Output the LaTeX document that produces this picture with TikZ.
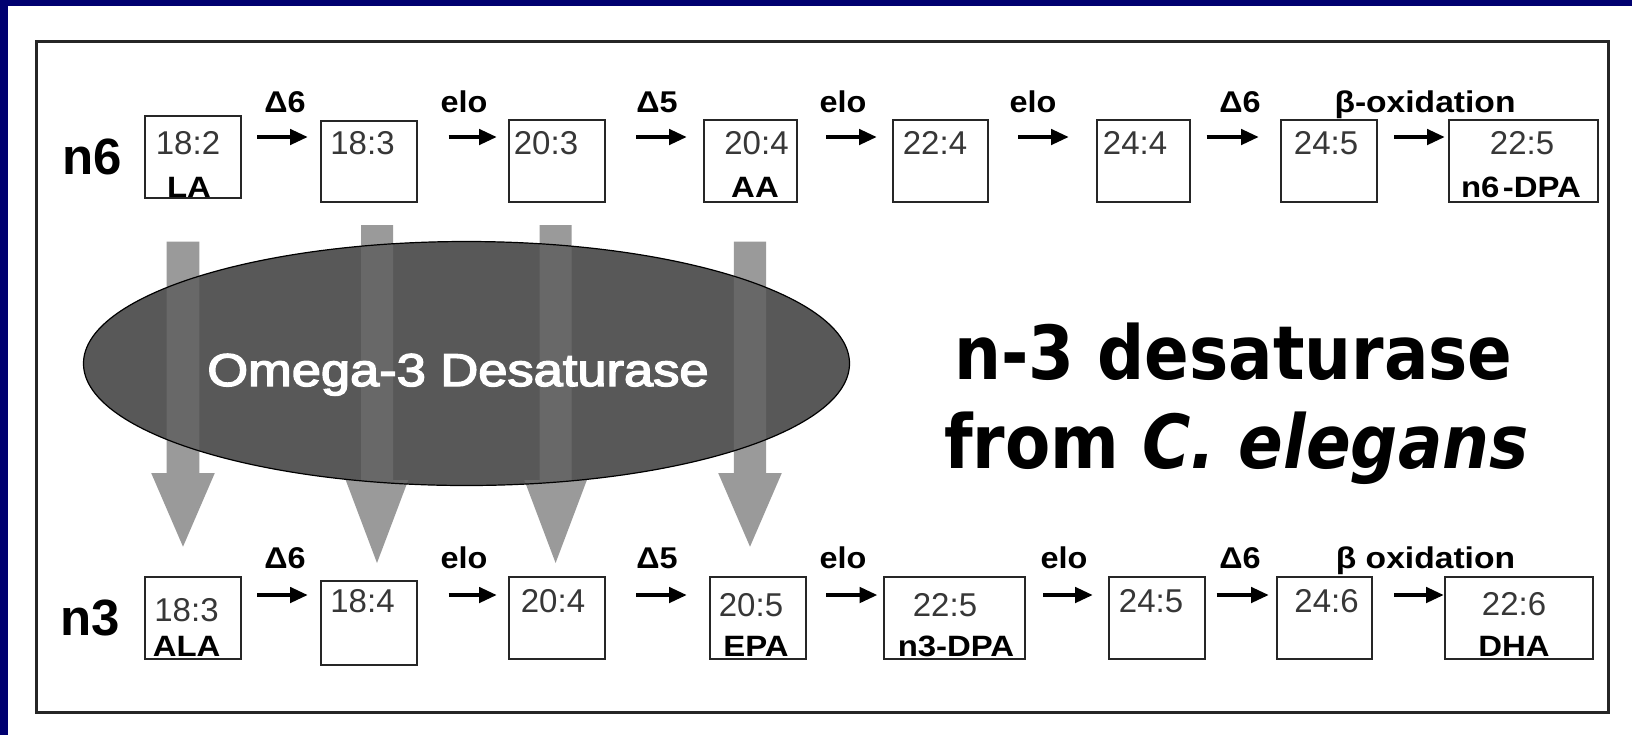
\documentclass[tikz,border=0pt]{standalone}
\usepackage{fontspec}
\usepackage{graphicx}
\setmainfont{Liberation Sans}
\newfontfamily\dvs{DejaVu Sans}
\newfontfamily\omegafont[FakeBold=3]{Liberation Sans}
\usetikzlibrary{arrows.meta,shapes.geometric}
\definecolor{navy}{RGB}{0,0,112}
\definecolor{ellfill}{RGB}{88,88,88}
\definecolor{arrfill}{RGB}{112,112,112}
\definecolor{numgray}{RGB}{55,55,55}
\newcommand\hs[2]{\scalebox{#1}[1]{#2}}
\newcommand\fabox[5]{\node[fabox, minimum width={(#4-#2)*0.5pt}, minimum height={(#5-#3)*0.5pt}] (#1) at ({(#2+#4)/2},{(#3+#5)/2}) {};}
\newcommand\blockarrow[6]{\fill[garrow] ({#1-#2},#3) -- ({#1+#2},#3) -- ({#1+#2},#4) -- ({#1+#5},#4) -- (#1,#6) -- ({#1-#5},#4) -- ({#1-#2},#4) -- cycle;}
\newcommand\flow[5]{\draw[flowarrow, shorten <=#3, shorten >=#4] (#1.east |- #5) -- (#2.west |- #5);}
\begin{document}
\begin{tikzpicture}[x=0.5pt,y=-0.5pt,
  fabox/.style={draw=black!85, line width=1pt, inner sep=0pt, fill=none},
  numtxt/.style={anchor=base, inner sep=0pt, text=numgray, font=\fontsize{16.5}{16.5}\selectfont},
  nametxt/.style={anchor=base, inner sep=0pt, font=\fontsize{14.7}{15}\selectfont\bfseries},
  enz/.style={anchor=base, inner sep=0pt, font=\fontsize{15}{15}\selectfont\bfseries},
  series/.style={anchor=base, inner sep=0pt, font=\fontsize{25.5}{26}\selectfont\bfseries},
  flowarrow/.style={line width=2.4pt, -{Triangle[length=9pt,width=7.5pt]}},
  garrow/.style={fill=arrfill, opacity=0.7},
  frame/.style={draw=black!85, line width=1.5pt},
  bigtxt/.style={anchor=base, inner sep=0pt, font=\dvs\bfseries\fontsize{37.25}{40}\selectfont},
  omega/.style={anchor=base, inner sep=0pt, text=white, font=\omegafont\fontsize{23}{23}\selectfont}
]
\useasboundingbox (0,0) rectangle (1632,735);
\fill[white] (0,0) rectangle (1632,735);
\fill[navy] (0,0) rectangle (1632,6);
\fill[navy] (0,0) rectangle (8,735);
\draw[frame] (36,41) rectangle (1608,712);

\coordinate (r1) at (0,137);
\coordinate (r2) at (0,595);

% n6 row boxes
\fabox{b1}{144.6}{116}{241}{198}
\fabox{b2}{321}{121}{417}{202}
\fabox{b3}{509}{120}{605}{202}
\fabox{b4}{704}{120}{797}{202}
\fabox{b5}{892.5}{120}{988}{202}
\fabox{b6}{1096.5}{120}{1190}{202}
\fabox{b7}{1281}{120}{1376.5}{202}
\fabox{b8}{1449}{120}{1597.6}{202}
% n3 row boxes
\fabox{c1}{144.6}{577}{241}{659}
\fabox{c2}{321}{581}{417}{665}
\fabox{c3}{509}{577}{605}{659}
\fabox{c4}{710}{577}{806}{659}
\fabox{c5}{884}{577}{1025}{659}
\fabox{c6}{1109}{577}{1205}{659}
\fabox{c7}{1277}{577}{1372}{659}
\fabox{c8}{1445}{577}{1593.4}{659}

% numbers
\node[numtxt] (b1n) at (188,154.5) {18:2};
\node[numtxt] (b2n) at (362.5,154.5) {18:3};
\node[numtxt] (b3n) at (546,154.5) {20:3};
\node[numtxt] (b4n) at (756.5,154.5) {20:4};
\node[numtxt] (b5n) at (935,154.5) {22:4};
\node[numtxt] (b6n) at (1135,154.5) {24:4};
\node[numtxt] (b7n) at (1326,154.5) {24:5};
\node[numtxt] (b8n) at (1522,154.5) {22:5};
\node[numtxt] (c1n) at (186.5,621) {18:3};
\node[numtxt] (c2n) at (362.5,612) {18:4};
\node[numtxt] (c3n) at (553,612) {20:4};
\node[numtxt] (c4n) at (751,616) {20:5};
\node[numtxt] (c5n) at (945,616) {22:5};
\node[numtxt] (c6n) at (1151,612) {24:5};
\node[numtxt] (c7n) at (1326.5,612) {24:6};
\node[numtxt] (c8n) at (1514,615) {22:6};
% names
\node[nametxt] (b1l) at (189,197) {\hs{1.12}{LA}};
\node[nametxt] (b4l) at (755,197) {\hs{1.12}{AA}};
\node[nametxt] (b8l) at (1521,197) {\hs{1.12}{n6\kern1.5pt-DPA}};
\node[nametxt] (c1l) at (186.6,656) {\hs{1.12}{ALA}};
\node[nametxt] (c4l) at (756,656) {\hs{1.12}{EPA}};
\node[nametxt] (c5l) at (956,656) {\hs{1.12}{n3-DPA}};
\node[nametxt] (c8l) at (1514,656) {\hs{1.12}{DHA}};

% series labels
\node[series] (n6) at (92,174) {n6};
\node[series] (n3) at (90,635) {n3};

% enzyme labels
\node[enz] (e11) at (285,112) {\hs{1.08}{Δ6}};
\node[enz] (e12) at (464,112) {\hs{1.08}{elo}};
\node[enz] (e13) at (657,112) {\hs{1.08}{Δ5}};
\node[enz] (e14) at (843,112) {\hs{1.08}{elo}};
\node[enz] (e15) at (1033,112) {\hs{1.08}{elo}};
\node[enz] (e16) at (1240,112) {\hs{1.08}{Δ6}};
\node[enz] (e17) at (1425,112) {\hs{1.12}{β-oxidation}};
\node[enz] (e21) at (285,568) {\hs{1.08}{Δ6}};
\node[enz] (e22) at (464,568) {\hs{1.08}{elo}};
\node[enz] (e23) at (657,568) {\hs{1.08}{Δ5}};
\node[enz] (e24) at (843,568) {\hs{1.08}{elo}};
\node[enz] (e25) at (1064,568) {\hs{1.08}{elo}};
\node[enz] (e26) at (1240,568) {\hs{1.08}{Δ6}};
\node[enz] (e27) at (1425.5,568) {\hs{1.12}{β oxidation}};

% flow arrows
\flow{b1}{b2}{7.5pt}{6pt}{r1}
\flow{b2}{b3}{15.25pt}{5.5pt}{r1}
\flow{b3}{b4}{15pt}{8pt}{r1}
\flow{b4}{b5}{14pt}{7.25pt}{r1}
\flow{b5}{b6}{14.5pt}{13.25pt}{r1}
\flow{b6}{b7}{7.85pt}{10.5pt}{r1}
\flow{b7}{b8}{8.25pt}{1.5pt}{r1}
\flow{c1}{c2}{7.5pt}{6pt}{r2}
\flow{c2}{c3}{15.25pt}{5.5pt}{r2}
\flow{c3}{c4}{15pt}{11pt}{r2}
\flow{c4}{c5}{9.5pt}{2.7pt}{r2}
\flow{c5}{c6}{8.5pt}{7.5pt}{r2}
\flow{c6}{c7}{5.3pt}{3.5pt}{r2}
\flow{c7}{c8}{10.5pt}{0pt}{r2}

% ellipse fill, block arrows, rim, text
\node[ellipse, fill=ellfill, minimum width=383pt, minimum height=122pt, inner sep=0pt] (ell) at (466.5,363.5) {};
\blockarrow{183}{16.3}{241.7}{473}{31.8}{546.7}
\blockarrow{377}{16}{225}{480}{31.3}{563}
\blockarrow{555.6}{16}{225}{480}{31.3}{563}
\blockarrow{750}{16.1}{241.7}{473}{31.8}{546.7}
\node[ellipse, draw=black, line width=0.6pt, minimum width=383pt, minimum height=122pt, inner sep=0pt] (ellrim) at (ell.center) {};
\node[omega] (omegatext) at (458,386) {\hs{1.14}{Omega-3 Desaturase}};

% title
\node[bigtxt] (title1) at (1233.6,379.3) {\hs{0.885}{n-3 desaturase}};
\node[bigtxt] (title2) at (1236.5,468) {\hs{0.885}{from \textit{C. elegans}}};
\end{tikzpicture}
\end{document}
